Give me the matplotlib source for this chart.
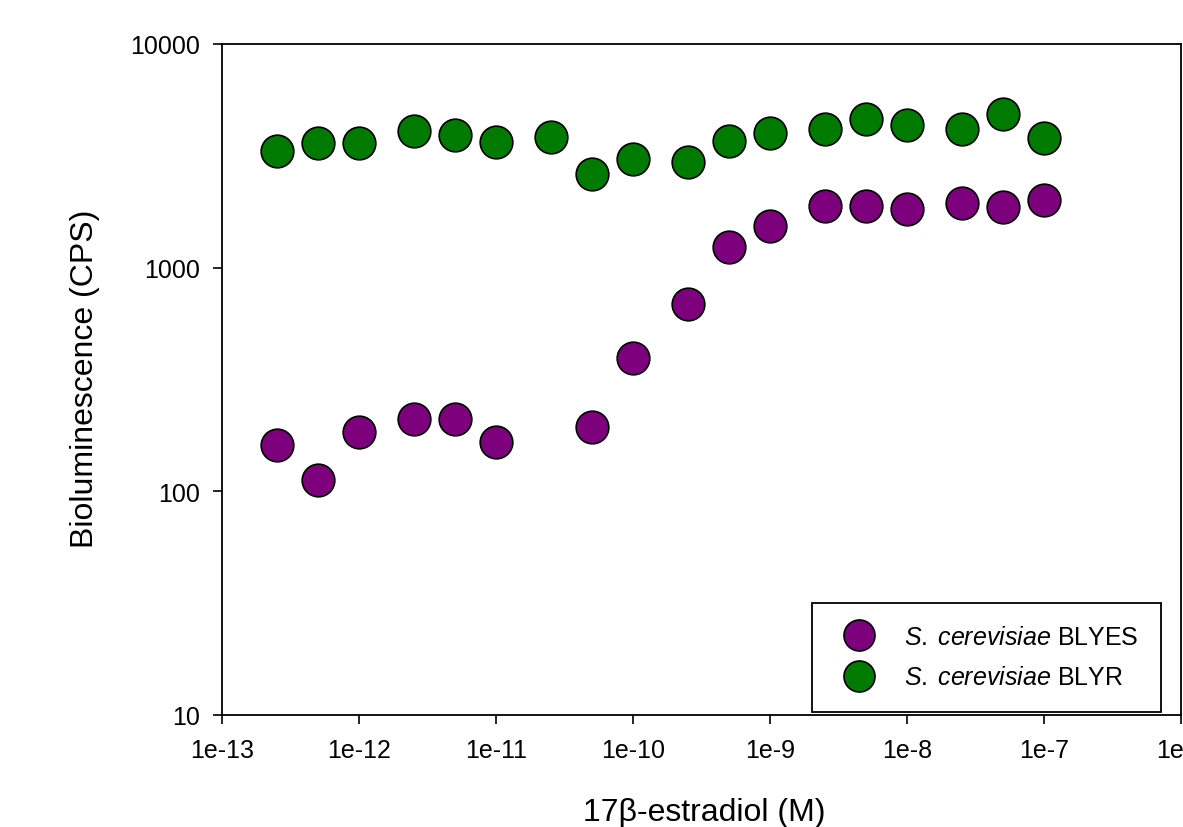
import matplotlib
matplotlib.use("Agg")
import matplotlib.pyplot as plt
from matplotlib.ticker import FixedLocator, FixedFormatter, NullLocator

plt.rcParams['font.family'] = ['Liberation Sans', 'DejaVu Sans']
plt.rcParams['mathtext.fontset'] = 'custom'
plt.rcParams['mathtext.rm'] = 'Liberation Sans'
plt.rcParams['mathtext.it'] = 'Liberation Sans:italic'

# Data
conc_blyr = [2.5e-13, 5e-13, 1e-12, 2.5e-12, 5e-12, 1e-11, 2.5e-11, 5e-11, 1e-10,
             2.5e-10, 5e-10, 1e-9, 2.5e-9, 5e-9, 1e-8, 2.5e-8, 5e-8, 1e-7]
cps_blyr = [3320, 3610, 3610, 4080, 3920, 3640, 3840, 2620, 3060,
            2965, 3680, 4000, 4170, 4620, 4340, 4170, 4860, 3800]

conc_blyes = [2.5e-13, 5e-13, 1e-12, 2.5e-12, 5e-12, 1e-11, 5e-11, 1e-10,
              2.5e-10, 5e-10, 1e-9, 2.5e-9, 5e-9, 1e-8, 2.5e-8, 5e-8, 1e-7]
cps_blyes = [161, 112, 184, 210, 210, 166, 194, 394,
             687, 1236, 1535, 1885, 1885, 1828, 1945, 1867, 2005]

x_ticks = [1e-13, 1e-12, 1e-11, 1e-10, 1e-9, 1e-8, 1e-7, 1e-6]
x_tick_labels = ['1e-13', '1e-12', '1e-11', '1e-10', '1e-9', '1e-8', '1e-7', '1e-6']
y_ticks = [10, 100, 1000, 10000]
y_tick_labels = ['10', '100', '1000', '10000']

label_blyes = r'$\it{S.\;cerevisiae}$ BLYES'
label_blyr = r'$\it{S.\;cerevisiae}$ BLYR'

fig = plt.figure(figsize=(11.83, 8.28), dpi=100)
ax = fig.add_axes([222/1183, 1 - 716/828, (1181-222)/1183, (716-45)/828])

ms = 23.5
ax.plot(conc_blyes, cps_blyes, linestyle='none', marker='o', markersize=ms,
        markerfacecolor='#7d007d', markeredgecolor='black', markeredgewidth=1.2,
        label=label_blyes)
ax.plot(conc_blyr, cps_blyr, linestyle='none', marker='o', markersize=ms,
        markerfacecolor='#007a00', markeredgecolor='black', markeredgewidth=1.2,
        label=label_blyr)

ax.set_xscale('log')
ax.set_yscale('log')
ax.set_xlim(1e-13, 1e-6)
ax.set_ylim(10, 10000)

ax.xaxis.set_major_locator(FixedLocator(x_ticks))
ax.xaxis.set_major_formatter(FixedFormatter(x_tick_labels))
ax.xaxis.set_minor_locator(NullLocator())
ax.yaxis.set_major_locator(FixedLocator(y_ticks))
ax.yaxis.set_major_formatter(FixedFormatter(y_tick_labels))
ax.yaxis.set_minor_locator(NullLocator())

ax.tick_params(axis='both', direction='out', length=6.5, width=1.2,
               labelsize=18, colors='black')
ax.tick_params(axis='x', pad=10)
ax.tick_params(axis='y', pad=9)

for s in ax.spines.values():
    s.set_linewidth(1.3)
    s.set_color('black')

ax.set_xlabel('17\u03b2-estradiol (M)', fontsize=23, va='baseline')
ax.set_ylabel('Bioluminescence (CPS)', fontsize=23, va='baseline')
ax.xaxis.set_label_coords(0.503, -0.157)
ax.yaxis.set_label_coords(-0.1345, 0.503)

leg = ax.legend(loc='lower left', bbox_to_anchor=(0.615, 0.0045), fontsize=18,
                frameon=True, fancybox=False, framealpha=1, edgecolor='black',
                borderpad=0.9, labelspacing=0.65, handlelength=2.0,
                handletextpad=0.8, borderaxespad=0, markerscale=0.95)
leg.get_frame().set_linewidth(1.3)

fig.savefig('out.png', dpi=100)
